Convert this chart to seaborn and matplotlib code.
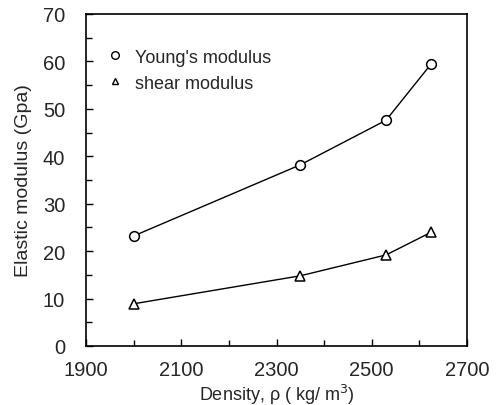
import matplotlib
matplotlib.use("Agg")
import matplotlib.pyplot as plt
from matplotlib.lines import Line2D
from matplotlib.ticker import MultipleLocator
import seaborn as sns
import pandas as pd

density = [2000, 2350, 2530, 2625]
youngs = [23.2, 38.2, 47.6, 59.5]
shear = [8.9, 14.8, 19.2, 24.0]
series_names = ["Young's modulus", "shear modulus"]

sns.set_theme(style="white")
plt.rcParams['font.family'] = ['Liberation Sans', 'DejaVu Sans']

df = pd.DataFrame({
    "density": density * 2,
    "modulus": youngs + shear,
    "series": [series_names[0]] * 4 + [series_names[1]] * 4,
})

fig = plt.figure(figsize=(5.03, 4.06), dpi=100)
ax = fig.add_axes([86/503, 1 - 347/406, (467-86)/503, (347-15)/406])

sns.lineplot(data=df, x="density", y="modulus", style="series",
             markers={series_names[0]: "o", series_names[1]: "^"},
             dashes=False, color="black", lw=1.0, ms=7,
             markerfacecolor="white", markeredgecolor="black",
             markeredgewidth=1.1, ax=ax, legend=False)

ax.set_xlim(1900, 2700)
ax.set_ylim(0, 70)
ax.xaxis.set_major_locator(MultipleLocator(200, offset=100))
ax.xaxis.set_minor_locator(MultipleLocator(100))
ax.yaxis.set_major_locator(MultipleLocator(10))
ax.yaxis.set_minor_locator(MultipleLocator(5))
ax.tick_params(which="both", direction="in", bottom=True, left=True,
               top=False, right=False, color="black", width=1)
ax.tick_params(which="major", length=5, labelsize=14.5)
ax.tick_params(which="minor", length=4)
ax.tick_params(axis="x", which="major", pad=10)
ax.tick_params(axis="y", which="major", pad=15)
for s in ax.spines.values():
    s.set_color("black")
    s.set_linewidth(1.2)

ax.set_xlabel("Density, ρ ( kg/ m$^3$)", fontsize=13, labelpad=2)
ax.set_ylabel("Elastic modulus (Gpa)", fontsize=14, labelpad=8)

handles = [
    Line2D([], [], ls="none", marker="o", ms=5.5, mfc="white", mec="black"),
    Line2D([], [], ls="none", marker="^", ms=5, mfc="white", mec="black"),
]
ax.legend(handles, series_names, loc="upper left", frameon=False,
          fontsize=13, bbox_to_anchor=(0.005, 0.945), handletextpad=0.5,
          handlelength=1.2, labelspacing=0.5)

fig.savefig("out.png", dpi=100, facecolor="white")
